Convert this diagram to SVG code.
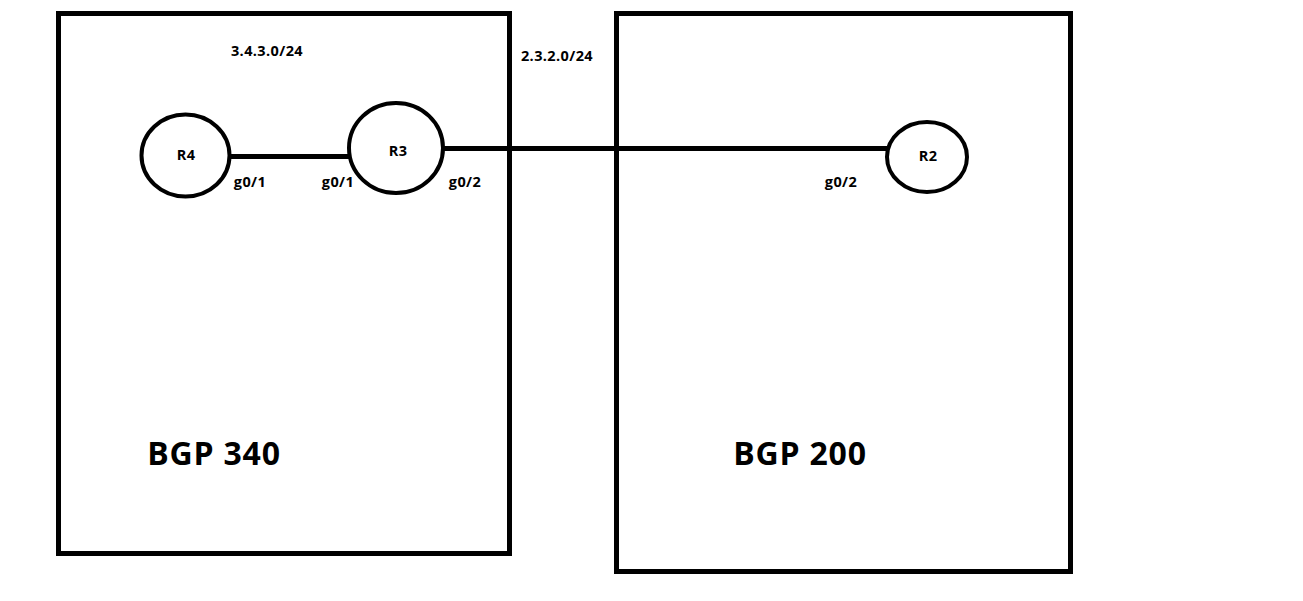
<svg xmlns="http://www.w3.org/2000/svg" width="1303" height="601" viewBox="0 0 1303 601">
<style>
.box{fill:none;stroke:#000;stroke-width:5}
.rt{fill:#fff;stroke:#000;stroke-width:4}
.ln{stroke:#000;stroke-width:5;fill:none}
text{font-family:"Open Sans","Liberation Sans",sans-serif;font-weight:bold;fill:#000;text-anchor:middle}
.s{font-size:14.5px;letter-spacing:0.4px}
.b{font-size:32px;letter-spacing:0.8px}
</style>
<rect width="1303" height="601" fill="#fff"/>
<g id="as340"><rect class="box" x="58.5" y="13.5" width="451" height="540"/><text class="b" x="214" y="465">BGP 340</text></g>
<g id="as200"><rect class="box" x="616.5" y="13.5" width="454" height="558"/><text class="b" x="800" y="465">BGP 200</text></g>
<g id="connectors">
<line class="ln" x1="230" y1="156.5" x2="349" y2="156.5"/>
<line class="ln" x1="442" y1="148.5" x2="890" y2="148.5"/>
</g>
<g id="R4"><ellipse class="rt" cx="185.5" cy="155.5" rx="44" ry="41"/><text class="s" x="186" y="160">R4</text></g>
<g id="R3"><ellipse class="rt" cx="396" cy="148" rx="47" ry="45"/><text class="s" x="398" y="156">R3</text></g>
<g id="R2"><ellipse class="rt" cx="927" cy="157" rx="40" ry="35"/><text class="s" x="928" y="161">R2</text></g>
<g id="labels">
<text class="s" x="267" y="56">3.4.3.0/24</text>
<text class="s" x="557" y="61">2.3.2.0/24</text>
<text class="s" x="250" y="187">g0/1</text>
<text class="s" x="338" y="187">g0/1</text>
<text class="s" x="465" y="187">g0/2</text>
<text class="s" x="841" y="187">g0/2</text>
</g>
</svg>
